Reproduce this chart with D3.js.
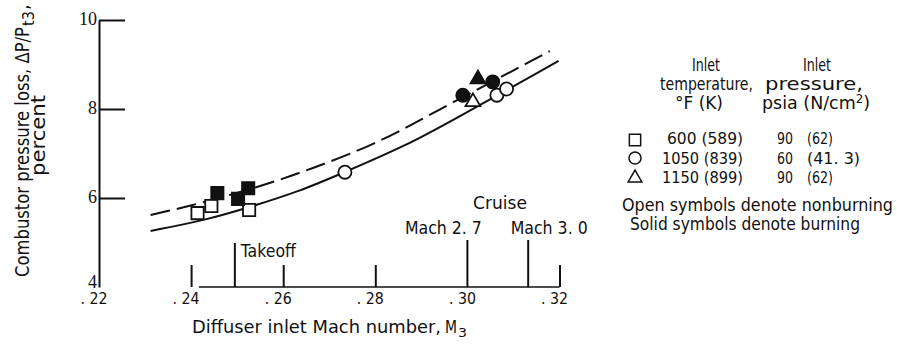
<!DOCTYPE html>
<html>
<head>
<meta charset="utf-8">
<script src="https://cdn.jsdelivr.net/npm/d3@7"></script>
<style>
  html, body { margin: 0; padding: 0; background: #fff; }
  svg { display: block; }
  text { font-family: "Liberation Sans Narrow", "DejaVu Sans Condensed", "Liberation Sans", sans-serif; fill: #111; }
</style>
</head>
<body>
<svg id="chart" width="897" height="346"></svg>
<script>
// Diffuser inlet Mach number vs combustor pressure loss (percent)

// Faired curves
const nonburningCurveM    = [0.2312, 0.2435, 0.2535, 0.2630, 0.2734, 0.2869, 0.2962, 0.3198];
const nonburningCurveLoss = [5.26, 5.51, 5.82, 6.13, 6.58, 7.19, 7.71, 9.08];
const burningCurveM       = [0.2312, 0.2383, 0.2550, 0.2665, 0.2795, 0.2890, 0.2925, 0.3179];
const burningCurveLoss    = [5.62, 5.78, 6.25, 6.67, 7.19, 7.71, 7.91, 9.30];

// Test points: 600 F / 90 psia (squares)
const openSquareM     = [0.2414, 0.2444, 0.2526];
const openSquareLoss  = [5.66, 5.82, 5.73];
const solidSquareM    = [0.2457, 0.2502, 0.2524];
const solidSquareLoss = [6.11, 5.98, 6.22];
// 1050 F / 60 psia (circles)
const openCircleM     = [0.2734, 0.3064, 0.3085];
const openCircleLoss  = [6.58, 8.31, 8.45];
const solidCircleM    = [0.2990, 0.3055];
const solidCircleLoss = [8.31, 8.61];
// 1150 F / 90 psia (triangles)
const openTriangleM     = [0.3012];
const openTriangleLoss  = [8.16];
const solidTriangleM    = [0.3023];
const solidTriangleLoss = [8.67];

// Axes
const xTickValues = [0.22, 0.24, 0.26, 0.28, 0.30, 0.32];
const xTickLabels = [". 22", ". 24", ". 26", ". 28", ". 30", ". 32"];
const yTickValues = [4, 6, 8, 10];
const yTickLabels = ["4", "6", "8", "10"];

// Flight condition markers
const takeoffM = 0.2495;
const cruiseM = [0.30, 0.3132];
const cruiseLabels = ["Mach 2. 7", "Mach 3. 0"];

// Legend rows
const legendShapes = ["square", "circle", "triangle"];
const legendTemps = ["600 (589)", "1050 (839)", "1150 (899)"];
const legendPsia = ["90", "60", "90"];
const legendNcm2 = ["(62)", "(41. 3)", "(62)"];

const svg = d3.select("#chart");
svg.append("rect").attr("width", 897).attr("height", 346).attr("fill", "#fff");

const x = d3.scaleLinear().domain([0.22, 0.32]).range([99, 559.5]);
const y = d3.scaleLinear().domain([4, 10]).range([287, 20]);

const ink = "#111";

function label(g, str, px, py, opts = {}) {
  const t = g.append("text")
    .attr("x", px).attr("y", py)
    .attr("font-size", opts.size || 18)
    .attr("text-anchor", opts.anchor || "start")
    .text(str);
  if (opts.width) t.attr("textLength", opts.width).attr("lengthAdjust", "spacingAndGlyphs");
  return t;
}

// ----- y axis -----
const yAxisG = svg.append("g").attr("transform", `translate(${x(0.22)},0)`)
  .call(d3.axisRight(y).tickValues([6, 8, 10]).tickSize(26).tickSizeOuter(0).tickFormat(""));
yAxisG.selectAll("path, line").attr("stroke", ink).attr("stroke-width", 2);

const yLabG = svg.append("g").attr("transform", `translate(${x(0.22) - 2},0)`)
  .call(d3.axisLeft(y).tickValues(yTickValues).tickSize(0).tickPadding(0)
    .tickFormat((d, i) => yTickLabels[i]));
yLabG.select(".domain").remove();
yLabG.selectAll("text").attr("font-size", 18).attr("fill", ink)
  .attr("dy", d => d === 4 ? "0" : "0.25em")
  .style("font-family", "'Liberation Serif', serif");

// ----- x axis -----
const baselineStartM = 0.2417;
svg.append("line")
  .attr("x1", x(baselineStartM)).attr("x2", x(0.32))
  .attr("y1", y(4)).attr("y2", y(4))
  .attr("stroke", ink).attr("stroke-width", 1.6);

const xAxisG = svg.append("g").attr("transform", `translate(0,${y(4)})`)
  .call(d3.axisBottom(x).tickValues([0.24, 0.26, 0.28, 0.32]).tickSizeInner(-22).tickSizeOuter(0).tickFormat(""));
xAxisG.select(".domain").remove();
xAxisG.selectAll("line").attr("stroke", ink).attr("stroke-width", 2);

const xLabG = svg.append("g").attr("transform", `translate(8,${y(4)})`)
  .call(d3.axisBottom(x).tickValues(xTickValues).tickSize(0).tickPadding(6)
    .tickFormat((d, i) => xTickLabels[i]));
xLabG.select(".domain").remove();
xLabG.selectAll("text").attr("font-size", 15).attr("text-anchor", "end").attr("fill", ink)
  .attr("textLength", 27).attr("lengthAdjust", "spacingAndGlyphs");

// axis titles
label(svg, "Diffuser inlet Mach number,", 192, 333, { width: 249 });
label(svg, "M", 445, 333, { width: 12 });
label(svg, "3", 458, 337, { size: 13, width: 9 });

const yTitle = svg.append("g").attr("transform", "translate(29,277) rotate(-90)");
label(yTitle, "Combustor pressure loss,  \u0394P/P", 0, 0, { size: 20, width: 250 });
label(yTitle, "t3", 251, 5, { size: 15, width: 15 });
label(yTitle, ",", 267, 0, { size: 20 });
const yTitle2 = svg.append("g").attr("transform", "translate(45,176) rotate(-90)");
label(yTitle2, "percent", 0, 0, { size: 20, width: 81 });

// ----- flight condition lines -----
svg.append("line")
  .attr("x1", x(takeoffM)).attr("x2", x(takeoffM))
  .attr("y1", y(4) - 44).attr("y2", y(4))
  .attr("stroke", ink).attr("stroke-width", 2);
label(svg, "Takeoff", x(takeoffM) + 6, 257, { width: 55 });

svg.selectAll(".cruise").data(cruiseM).join("line")
  .attr("class", "cruise")
  .attr("x1", d => x(d)).attr("x2", d => x(d))
  .attr("y1", y(4) - 47).attr("y2", y(4))
  .attr("stroke", ink).attr("stroke-width", 2);
label(svg, "Cruise", 500, 209, { anchor: "middle", width: 54 });
cruiseLabels.forEach((s, i) => {
  label(svg, s, x(cruiseM[i]) + (i === 0 ? -24 : 21), 234, { anchor: "middle", width: 77 });
});

// ----- curves -----
const line = d3.line().x(d => x(d[0])).y(d => y(d[1])).curve(d3.curveBasis);
svg.append("path")
  .datum(d3.zip(nonburningCurveM, nonburningCurveLoss))
  .attr("d", line).attr("fill", "none").attr("stroke", ink).attr("stroke-width", 2);
svg.append("path")
  .datum(d3.zip(burningCurveM, burningCurveLoss))
  .attr("d", line).attr("fill", "none").attr("stroke", ink).attr("stroke-width", 2)
  .attr("stroke-dasharray", "20,7");

// ----- symbols -----
const shapeType = { square: d3.symbolSquare, circle: d3.symbolCircle, triangle: d3.symbolTriangle };
const shapeSize = { square: 150, circle: 135, triangle: 95 };

function plotPoints(ms, losses, shape, solid) {
  svg.append("g").selectAll("path").data(d3.zip(ms, losses)).join("path")
    .attr("transform", d => `translate(${x(d[0])},${y(d[1])})`)
    .attr("d", d3.symbol().type(shapeType[shape]).size(shapeSize[shape]))
    .attr("fill", solid ? ink : "#fff")
    .attr("stroke", ink).attr("stroke-width", 1.8);
}
plotPoints(openSquareM, openSquareLoss, "square", false);
plotPoints(solidSquareM, solidSquareLoss, "square", true);
plotPoints(openCircleM, openCircleLoss, "circle", false);
plotPoints(openTriangleM, openTriangleLoss, "triangle", false);
plotPoints(solidCircleM, solidCircleLoss, "circle", true);
plotPoints(solidTriangleM, solidTriangleLoss, "triangle", true);

// ----- legend -----
const lg = svg.append("g");
label(lg, "Inlet", 706, 71, { anchor: "middle", width: 28 });
label(lg, "Inlet", 817, 71, { anchor: "middle", width: 28 });
label(lg, "temperature,", 660, 90, { width: 93 });
label(lg, "pressure,", 765, 90, { width: 98 });
label(lg, "\u00b0F  (K)", 675, 109, { width: 48 });
const psiaT = label(lg, "psia (N/cm", 762, 109);
psiaT.append("tspan").attr("dy", -6).attr("font-size", 12).text("2");
psiaT.append("tspan").attr("dy", 6).text(")");
psiaT.attr("textLength", 108).attr("lengthAdjust", "spacingAndGlyphs");

const rowY = [140, 158, 178];
const rowBase = [144, 163.5, 183];
legendShapes.forEach((s, i) => {
  lg.append("path")
    .attr("transform", `translate(635,${rowY[i]})`)
    .attr("d", d3.symbol().type(shapeType[s]).size(shapeSize[s] * 0.85))
    .attr("fill", "#fff").attr("stroke", ink).attr("stroke-width", 1.5);
  const base = rowBase[i];
  label(lg, legendTemps[i], i === 0 ? 667 : 662, base, { size: 16.5, width: i === 0 ? 76 : 81 });
  label(lg, legendPsia[i], 777, base, { size: 16.5, width: 16 });
  label(lg, legendNcm2[i], 807, base, { size: 16.5, width: i === 1 ? 53 : 26 });
});
label(lg, "Open symbols denote nonburning", 622, 211, { width: 271 });
label(lg, "Solid symbols denote burning", 630, 230, { width: 230 });
</script>
</body>
</html>
